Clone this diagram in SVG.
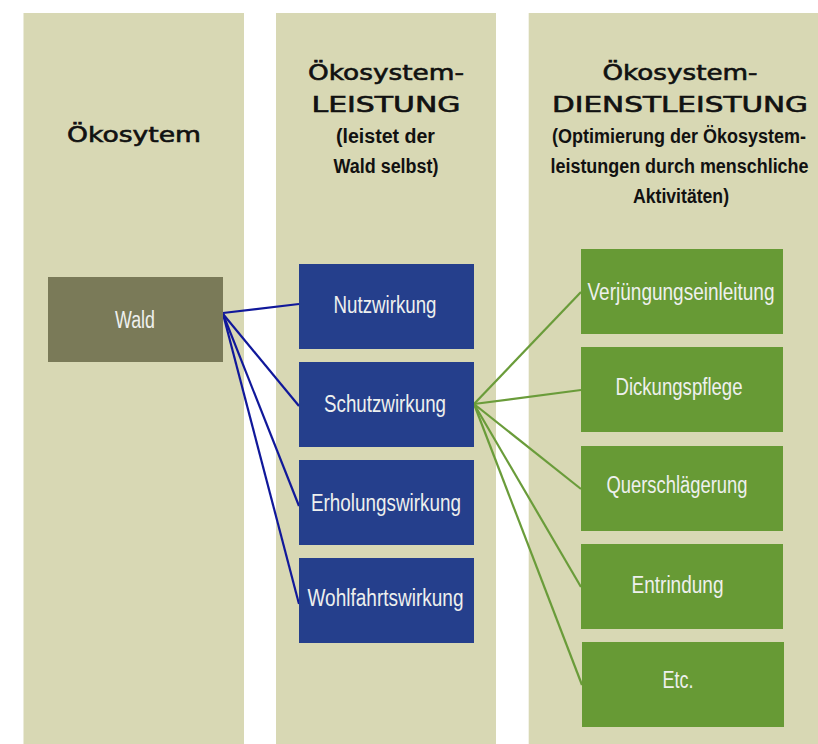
<svg xmlns="http://www.w3.org/2000/svg" width="818" height="744" viewBox="0 0 818 744">
<style>
.col{fill:#d8d8b4}
.wald{fill:#7a7a58}
.blue{fill:#253f8c}
.green{fill:#679a35}
.lbl{font-family:"Liberation Sans",Arial,sans-serif;font-size:23px;fill:#eef0ee;text-anchor:middle}
.hw{font-family:"DejaVu Sans","Liberation Sans",sans-serif;font-size:20.5px;fill:#111;stroke:#111;stroke-width:0.6;text-anchor:middle}
.hc{font-family:"Liberation Sans",Arial,sans-serif;font-weight:bold;font-size:20px;fill:#111;text-anchor:middle}
.cb{stroke:#10189a;stroke-width:2.2;fill:none}
.cg{stroke:#6a9c3a;stroke-width:2.2;fill:none}
</style>
<rect width="818" height="744" fill="#ffffff"/>
<g id="columns">
<rect class="col" x="23.5" y="13" width="220.5" height="731"/>
<rect class="col" x="276" y="13" width="220" height="731"/>
<rect class="col" x="528.7" y="13" width="289.3" height="731"/>
</g>
<g id="headers">
<text class="hw" x="134" y="142" textLength="134" lengthAdjust="spacingAndGlyphs">Ökosytem</text>
<text class="hw" x="386" y="80" textLength="156" lengthAdjust="spacingAndGlyphs">Ökosystem-</text>
<text class="hw" x="386" y="112" textLength="149" lengthAdjust="spacingAndGlyphs">LEISTUNG</text>
<text class="hc" x="385.5" y="143" textLength="99" lengthAdjust="spacingAndGlyphs">(leistet der</text>
<text class="hc" x="386" y="173" textLength="105" lengthAdjust="spacingAndGlyphs">Wald selbst)</text>
<text class="hw" x="680" y="80" textLength="155" lengthAdjust="spacingAndGlyphs">Ökosystem-</text>
<text class="hw" x="680" y="112" textLength="256" lengthAdjust="spacingAndGlyphs">DIENSTLEISTUNG</text>
<text class="hc" x="679" y="143" textLength="254" lengthAdjust="spacingAndGlyphs">(Optimierung der Ökosystem-</text>
<text class="hc" x="679.5" y="173" textLength="258" lengthAdjust="spacingAndGlyphs">leistungen durch menschliche</text>
<text class="hc" x="681" y="203" textLength="96" lengthAdjust="spacingAndGlyphs">Aktivitäten)</text>
</g>
<g id="connectors">
<line class="cb" x1="223" y1="313" x2="299" y2="304"/>
<line class="cb" x1="223" y1="314" x2="299" y2="406"/>
<line class="cb" x1="223" y1="314" x2="299" y2="506"/>
<line class="cb" x1="223" y1="314" x2="299" y2="604"/>
<line class="cg" x1="474" y1="404" x2="581" y2="292"/>
<line class="cg" x1="474" y1="404" x2="581" y2="390"/>
<line class="cg" x1="474" y1="404" x2="581" y2="489"/>
<line class="cg" x1="474" y1="404" x2="581" y2="587"/>
<line class="cg" x1="474" y1="404" x2="582" y2="685"/>
</g>
<g id="wald">
<rect class="wald" x="48" y="277" width="175" height="85"/>
<text class="lbl" x="135" y="327.5" textLength="40" lengthAdjust="spacingAndGlyphs">Wald</text>
</g>
<g id="nutzwirkung">
<rect class="blue" x="299" y="264" width="175" height="85"/>
<text class="lbl" x="385" y="313" textLength="103" lengthAdjust="spacingAndGlyphs">Nutzwirkung</text>
</g>
<g id="schutzwirkung">
<rect class="blue" x="299" y="362" width="175" height="85"/>
<text class="lbl" x="385" y="411.5" textLength="122" lengthAdjust="spacingAndGlyphs">Schutzwirkung</text>
</g>
<g id="erholungswirkung">
<rect class="blue" x="299" y="460" width="175" height="85"/>
<text class="lbl" x="386" y="510.5" textLength="150" lengthAdjust="spacingAndGlyphs">Erholungswirkung</text>
</g>
<g id="wohlfahrtswirkung">
<rect class="blue" x="299" y="558" width="175" height="85"/>
<text class="lbl" x="385.5" y="605.5" textLength="156" lengthAdjust="spacingAndGlyphs">Wohlfahrtswirkung</text>
</g>
<g id="verjuengungseinleitung">
<rect class="green" x="581" y="249" width="202" height="85"/>
<text class="lbl" x="681" y="300" textLength="187" lengthAdjust="spacingAndGlyphs">Verjüngungseinleitung</text>
</g>
<g id="dickungspflege">
<rect class="green" x="581" y="347" width="202" height="85"/>
<text class="lbl" x="679" y="394.5" textLength="127" lengthAdjust="spacingAndGlyphs">Dickungspflege</text>
</g>
<g id="querschlaegerung">
<rect class="green" x="581" y="446" width="202" height="85"/>
<text class="lbl" x="677" y="492.5" textLength="141" lengthAdjust="spacingAndGlyphs">Querschlägerung</text>
</g>
<g id="entrindung">
<rect class="green" x="581" y="544" width="202" height="85"/>
<text class="lbl" x="677.5" y="592.5" textLength="92" lengthAdjust="spacingAndGlyphs">Entrindung</text>
</g>
<g id="etc">
<rect class="green" x="582" y="642" width="202" height="85"/>
<text class="lbl" x="678" y="688" textLength="31" lengthAdjust="spacingAndGlyphs">Etc.</text>
</g>
</svg>
